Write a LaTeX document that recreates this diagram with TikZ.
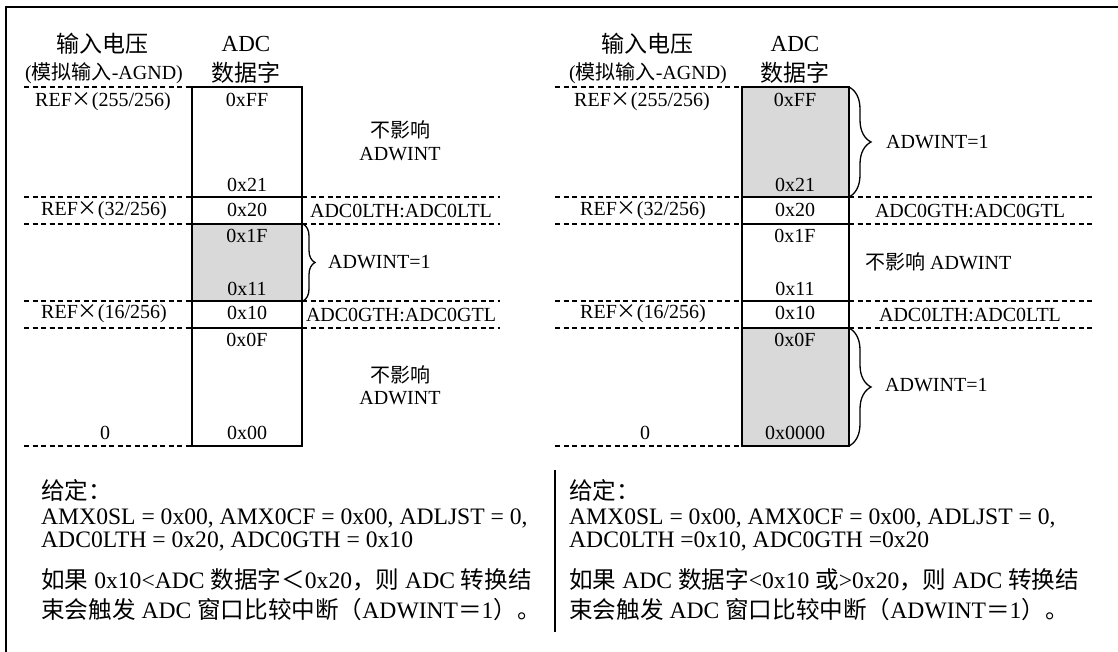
\documentclass[tikz,border=0pt]{standalone}
\usepackage{fontspec}
\setmainfont{Liberation Serif}
\newfontfamily\cjk{Noto Sans CJK SC}
\usetikzlibrary{decorations.pathreplacing}
\definecolor{cellgray}{HTML}{D9D9D9}
\newcommand\dgfont{\fontsize{20}{24}\selectfont}
\newcommand\ttfontsz{\fontsize{23}{27}\selectfont}
\newcommand\btfont{\fontsize{23.6}{28}\selectfont}
\begin{document}
\begin{tikzpicture}[x=1pt,y=-1pt,
  every node/.style={inner sep=0pt},
  dg/.style={font=\dgfont},
  tt/.style={font=\ttfontsz},
  bt/.style={font=\btfont, anchor=west},
  boxline/.style={line width=2pt},
  dashline/.style={line width=1.8pt, dash pattern=on 5pt off 3.5pt},
  bracestyle/.style={line width=1.3pt, decorate}]
\useasboundingbox (0,0) rectangle (1118,652);
% outer frame
\draw[line width=2.2pt] (6,652) -- (6,7) -- (1118,7);

% ================= left panel =================
\foreach \y in {87,197,224,301,328,446} \draw[dashline] (24,\y) -- (192,\y);
\foreach \y in {197,224,301,328} \draw[dashline] (302,\y) -- (500,\y);
\fill[cellgray] (192,224) rectangle (302,301);
\draw[boxline] (192,87) rectangle (302,446);
\foreach \y in {197,224,301,328} \draw[boxline] (192,\y) -- (302,\y);

\node[tt] (lt1) at (102,44) {\cjk 输入电压};
\node[dg] (lt2) at (104,73) {({\cjk 模拟输入}-AGND)};
\node[tt] (la1) at (246,44) {ADC};
\node[tt] (la2) at (246,73) {\cjk 数据字};

\node[dg] (lr1) at (103,102) {REF{\cjk ×}(255/256)};
\node[dg] (lr2) at (104,211) {REF{\cjk ×}(32/256)};
\node[dg] (lr3) at (104,314) {REF{\cjk ×}(16/256)};
\node[dg] (lr4) at (105,433) {0};

\node[dg] (lvff) at (247,100) {0xFF};
\node[dg] (lv21) at (247,185) {0x21};
\node[dg] (lv20) at (247,210) {0x20};
\node[dg] (lv1f) at (247,236) {0x1F};
\node[dg] (lv11) at (247,289) {0x11};
\node[dg] (lv10) at (247,313) {0x10};
\node[dg] (lv0f) at (247,340) {0x0F};
\node[dg] (lv00) at (247,433) {0x00};

\node[dg] (ln1) at (400,130) {\cjk 不影响};
\node[dg] (ln2) at (400,154) {ADWINT};
\node[dg] (llth) at (401,211) {ADC0LTH:ADC0LTL};
\draw[bracestyle, decoration={brace, amplitude=12pt}] (303,224) -- (303,301);
\node[dg, anchor=west] (lw1) at (328,262) {ADWINT=1};
\node[dg] (lgth) at (401,315) {ADC0GTH:ADC0GTL};
\node[dg] (ln3) at (400,375) {\cjk 不影响};
\node[dg] (ln4) at (400,398) {ADWINT};

% ================= right panel =================
\foreach \y in {87,197,224,301,328,446} \draw[dashline] (555,\y) -- (742,\y);
\foreach \y in {197,224,301,328} \draw[dashline] (849,\y) -- (1095,\y);
\fill[cellgray] (742,87) rectangle (849,197);
\fill[cellgray] (742,328) rectangle (849,446);
\draw[boxline] (742,87) rectangle (849,446);
\foreach \y in {197,224,301,328} \draw[boxline] (742,\y) -- (849,\y);

\node[tt] (rt1) at (647,44) {\cjk 输入电压};
\node[dg] (rt2) at (648,73) {({\cjk 模拟输入}-AGND)};
\node[tt] (ra1) at (795,44) {ADC};
\node[tt] (ra2) at (795,73) {\cjk 数据字};

\node[dg] (rr1) at (642,102) {REF{\cjk ×}(255/256)};
\node[dg] (rr2) at (643,211) {REF{\cjk ×}(32/256)};
\node[dg] (rr3) at (643,314) {REF{\cjk ×}(16/256)};
\node[dg] (rr4) at (645,433) {0};

\node[dg] (rvff) at (795,100) {0xFF};
\node[dg] (rv21) at (795,185) {0x21};
\node[dg] (rv20) at (795,210) {0x20};
\node[dg] (rv1f) at (795,236) {0x1F};
\node[dg] (rv11) at (795,289) {0x11};
\node[dg] (rv10) at (795,313) {0x10};
\node[dg] (rv0f) at (795,340) {0x0F};
\node[dg] (rv00) at (795,433) {0x0000};

\draw[bracestyle, decoration={brace, amplitude=22pt}] (849,87) -- (849,197);
\node[dg, anchor=west] (rw1) at (886,142) {ADWINT=1};
\node[dg] (rgth) at (970,211) {ADC0GTH:ADC0GTL};
\node[dg, anchor=west] (rn1) at (865,262) {{\cjk 不影响} ADWINT};
\node[dg] (rlth) at (970,315) {ADC0LTH:ADC0LTL};
\draw[bracestyle, decoration={brace, amplitude=22pt}] (849,328) -- (849,446);
\node[dg, anchor=west] (rw2) at (885,385) {ADWINT=1};

% ================= bottom text =================
\draw[line width=2pt] (555,470) -- (555,632);

\node[bt] (lg) at (41,490) {{\cjk 给定：}};
\node[bt] (lp1) at (41,518) {AMX0SL = 0x00, AMX0CF = 0x00, ADLJST = 0,};
\node[bt] (lp2) at (41,541) {ADC0LTH = 0x20, ADC0GTH = 0x10};
\node[bt] (lc1) at (41,580) {{\cjk 如果} 0x10<ADC {\cjk 数据字＜}0x20{\cjk ，则} ADC {\cjk 转换结}};
\node[bt] (lc2) at (41,610) {{\cjk 束会触发} ADC {\cjk 窗口比较中断（}ADWINT{\cjk ＝}1{\cjk ）。}};

\node[bt] (rg) at (569,490) {{\cjk 给定：}};
\node[bt] (rp1) at (569,518) {AMX0SL = 0x00, AMX0CF = 0x00, ADLJST = 0,};
\node[bt] (rp2) at (569,541) {ADC0LTH =0x10, ADC0GTH =0x20};
\node[bt] (rc1) at (569,580) {{\cjk 如果} ADC {\cjk 数据字}<0x10 {\cjk 或}>0x20{\cjk ，则} ADC {\cjk 转换结}};
\node[bt] (rc2) at (569,610) {{\cjk 束会触发} ADC {\cjk 窗口比较中断（}ADWINT{\cjk ＝}1{\cjk ）。}};
\end{tikzpicture}
\end{document}
